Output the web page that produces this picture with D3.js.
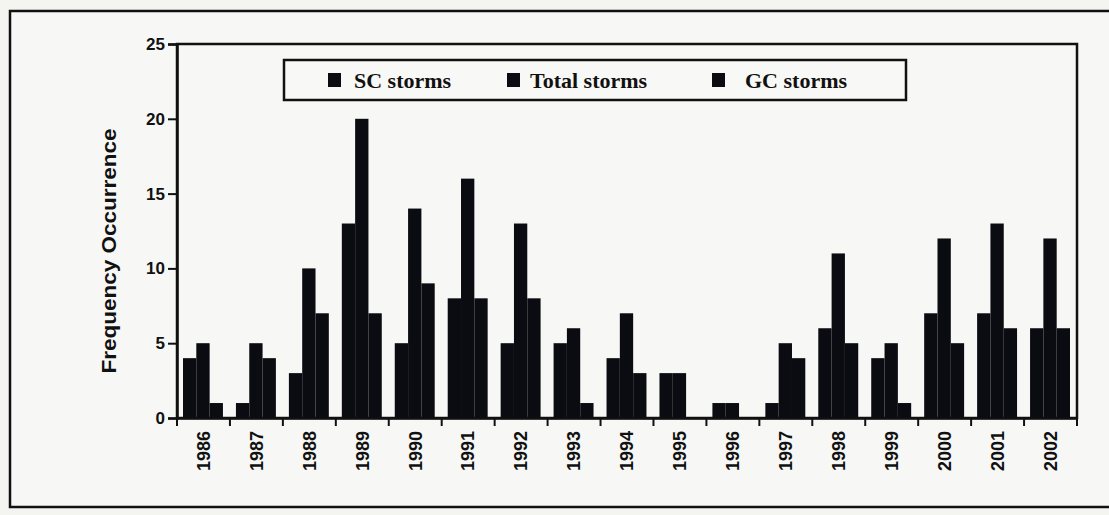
<!DOCTYPE html>
<html>
<head>
<meta charset="utf-8">
<script src="https://cdn.jsdelivr.net/npm/d3@7"></script>
<style>
  body { margin: 0; background: #f4f4f1; }
  svg { display: block; }
  .tick text { font-family: "Liberation Sans", Arial, sans-serif; font-weight: bold; }
</style>
</head>
<body>
<div id="chart"></div>
<script>
// storm counts per year
const years = ['1986','1987','1988','1989','1990','1991','1992','1993','1994','1995','1996','1997','1998','1999','2000','2001','2002'];
const scStorms    = [4, 1, 3, 13, 5, 8, 5, 5, 4, 3, 1, 1, 6, 4, 7, 7, 6];
const totalStorms = [5, 5, 10, 20, 14, 16, 13, 6, 7, 3, 1, 5, 11, 5, 12, 13, 12];
const gcStorms    = [1, 4, 7, 7, 9, 8, 8, 1, 3, 0, 0, 4, 5, 1, 5, 6, 6];
const seriesNames = ['SC storms', 'Total storms', 'GC storms'];
const yTicks = [0, 5, 10, 15, 20, 25];

const W = 1109, H = 515;
const barColor = '#0b0b12';
let margin = {top: 44, left: 177, right: 32, bottom: 97};

const svg = d3.select('#chart').append('svg')
  .attr('width', W).attr('height', H);

// outer page frame
svg.append('rect')
  .attr('x', 10).attr('y', 11)
  .attr('width', W + 20).attr('height', 496)
  .attr('fill', '#f7f7f5').attr('stroke', '#111').attr('stroke-width', 2.5);

const x0 = d3.scaleBand().domain(years).range([margin.left, W - margin.right]).padding(0);
const x1 = d3.scaleBand().domain(seriesNames).range([6, x0.bandwidth() - 7]).padding(0);
const y = d3.scaleLinear().domain([0, 25]).range([H - margin.bottom, margin.top]);

const data = years.map((yr, i) => ({
  year: yr,
  values: [scStorms[i], totalStorms[i], gcStorms[i]]
}));

// plot frame
svg.append('rect')
  .attr('x', margin.left).attr('y', y(25))
  .attr('width', x0.range()[1] - margin.left).attr('height', y(0) - y(25))
  .attr('fill', 'none').attr('stroke', '#111').attr('stroke-width', 2.5);

// bars
const groups = svg.append('g').selectAll('g').data(data).enter()
  .append('g').attr('transform', d => `translate(${x0(d.year)},0)`);
groups.selectAll('rect')
  .data(d => d.values.map((v, k) => ({name: seriesNames[k], value: v})))
  .enter().append('rect')
  .attr('x', d => x1(d.name))
  .attr('width', x1.bandwidth())
  .attr('y', d => y(d.value))
  .attr('height', d => y(0) - y(d.value))
  .attr('fill', barColor);

// y axis
const yAxis = svg.append('g')
  .attr('transform', `translate(${margin.left},0)`)
  .call(d3.axisLeft(y).tickValues(yTicks).tickSize(9).tickPadding(3).tickFormat(d3.format('d')));
yAxis.select('.domain').attr('stroke-width', 2.5).attr('stroke', '#111');
yAxis.selectAll('.tick line').attr('stroke-width', 2).attr('stroke', '#111');
yAxis.selectAll('.tick text').style('font-size', '17px').attr('fill', '#111');

// x axis: labels centred in the bands, ticks at the band edges
const xAxis = svg.append('g')
  .attr('transform', `translate(0,${y(0)})`)
  .call(d3.axisBottom(x0).tickSize(0).tickPadding(0));
xAxis.select('.domain').attr('stroke-width', 2.5).attr('stroke', '#111');
xAxis.selectAll('.tick text')
  .style('font-size', '18px').attr('fill', '#111')
  .attr('transform', 'rotate(-90)')
  .attr('text-anchor', 'end')
  .attr('x', -13).attr('y', 0).attr('dy', '0.35em');
const edges = years.map(d => x0(d)).concat([x0.range()[1]]);
svg.append('g').selectAll('line').data(edges).enter().append('line')
  .attr('x1', d => d).attr('x2', d => d)
  .attr('y1', y(0)).attr('y2', y(0) + 8)
  .attr('stroke', '#111').attr('stroke-width', 2);

// y title
svg.append('text')
  .attr('transform', `translate(116,${(y(0) + y(25)) / 2 + 20}) rotate(-90)`)
  .attr('text-anchor', 'middle')
  .attr('textLength', 245).attr('lengthAdjust', 'spacingAndGlyphs')
  .style('font-family', '"Liberation Sans", Arial, sans-serif')
  .style('font-weight', 'bold').style('font-size', '20px')
  .attr('fill', '#111')
  .text('Frequency Occurrence');

// legend
const legend = svg.append('g');
legend.append('rect')
  .attr('x', 284).attr('y', 60).attr('width', 622).attr('height', 40)
  .attr('fill', '#f8f8f6').attr('stroke', '#111').attr('stroke-width', 2.5);
const legendX = [328, 507, 712];
const legendTextX = [26, 23, 33];
const items = legend.selectAll('g.item').data(seriesNames).enter()
  .append('g').attr('class', 'item')
  .attr('transform', (d, i) => `translate(${legendX[i]},80)`);
items.append('rect')
  .attr('x', 0).attr('y', -7).attr('width', 13).attr('height', 14)
  .attr('fill', barColor);
items.append('text')
  .attr('x', (d, i) => legendTextX[i]).attr('y', 0).attr('dy', '0.35em')
  .style('font-family', '"Liberation Serif", "Times New Roman", serif')
  .style('font-weight', 'bold').style('font-size', '22px')
  .attr('fill', '#111')
  .text(d => d);
</script>
</body>
</html>
